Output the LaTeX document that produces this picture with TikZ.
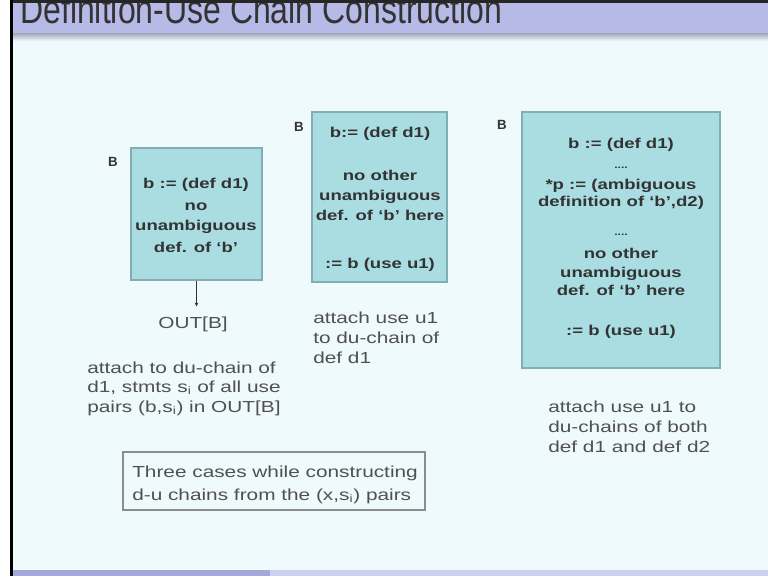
\documentclass[tikz,border=0pt]{standalone}
\usepackage{fontspec}
\setmainfont{Liberation Sans}
\newfontfamily\widefont[FakeStretch=1.3]{Liberation Sans}
\newfontfamily\titlefont[FakeStretch=0.8]{Liberation Sans}
\usetikzlibrary{fit,arrows.meta}
\definecolor{bgc}{HTML}{EFFAFC}
\definecolor{boxfill}{HTML}{A9DDE2}
\definecolor{boxline}{HTML}{82ADB2}
\definecolor{barc}{HTML}{B7BAE6}
\definecolor{barshadow}{HTML}{9EA6B4}
\definecolor{botbarA}{HTML}{A3A7DC}
\definecolor{botbarB}{HTML}{CDD0F1}
\definecolor{txtdark}{HTML}{333333}
\definecolor{txtgray}{HTML}{505050}
\tikzset{
  blk/.style={draw=boxline, line width=1.1pt, fill=boxfill, inner sep=0pt},
  bt/.style={font=\widefont\bfseries\fontsize{10.7}{12}\selectfont, text=txtdark, anchor=base, inner sep=0pt},
  dots/.style={font=\widefont\bfseries\fontsize{7}{8}\selectfont, text=txtdark, anchor=base, inner sep=0pt},
  plain/.style={font=\widefont\fontsize{12}{14.6}\selectfont, text=txtgray, anchor=base west, inner sep=0pt},
  blbl/.style={font=\bfseries\fontsize{10}{11}\selectfont, text=txtdark, inner sep=0pt},
}
\begin{document}
\begin{tikzpicture}[x=0.75pt,y=-0.75pt]
\useasboundingbox (0,0) rectangle (768,576);
% background and frame
\fill[bgc] (0,0) rectangle (768,576);
\fill[white] (0,0) rectangle (10,576);
\fill[black] (10,0) rectangle (13,576);
% title bar
\fill[barc] (13,0) rectangle (768,33);
\shade[top color=barshadow, bottom color=bgc] (13,33) rectangle (768,41);
\node[anchor=base west, font=\titlefont\fontsize{30}{34}\selectfont, text=txtdark, inner sep=0pt] (title) at (20,23) {Definition-Use Chain Construction};
\fill[black!85] (13,0) rectangle (768,3);
% bottom bar
\fill[botbarA] (13,570) rectangle (270,576);
\fill[botbarB] (270,570) rectangle (768,576);

% ---- case 1 ----
\node[blk, fit={(131,148) (262,280)}] (box1) {};
\node[blbl] (B1) at (113,162) {B};
\node[bt] (b1l1) at (196,188) {b := (def d1)};
\node[bt] (b1l2) at (196,210) {no};
\node[bt] (b1l3) at (196,230) {unambiguous};
\node[bt] (b1l4) at (196,252) {def. of ‘b’};
\node[anchor=base, inner sep=0pt, font=\widefont\fontsize{12}{14.6}\selectfont, text=txtgray] (out) at (193,328) {OUT[B]};
\draw[line width=0.7pt, draw=txtdark, -{Latex[length=3pt,width=3pt]}, shorten >=7pt] (box1.south) -- (box1.south |- out.north);
\node[plain] (c1t1) at (87,373.5) {attach to du-chain of};
\node[plain] (c1t2) at (87,392.5) {d1, stmts s\textsubscript{i} of all use};
\node[plain] (c1t3) at (87,412.5) {pairs (b,s\textsubscript{i}) in OUT[B]};

% ---- case 2 ----
\node[blk, fit={(312,112) (447,282)}] (box2) {};
\node[blbl] (B2) at (299,127) {B};
\node[bt] (b2l1) at (380,137) {b:= (def d1)};
\node[bt] (b2l2) at (380,180) {no other};
\node[bt] (b2l3) at (380,200) {unambiguous};
\node[bt] (b2l4) at (380,220) {def. of ‘b’ here};
\node[bt] (b2l5) at (380,268) {:= b (use u1)};
\node[plain] (c2t1) at (313,323.5) {attach use u1};
\node[plain] (c2t2) at (313,343.5) {to du-chain of};
\node[plain] (c2t3) at (313,363.5) {def d1};

% ---- case 3 ----
\node[blk, fit={(522,112) (720,368)}] (box3) {};
\node[blbl] (B3) at (502,125) {B};
\node[bt] (b3l1) at (621,148) {b := (def d1)};
\node[dots] (b3d1) at (621,168) {....};
\node[bt] (b3l2) at (621,189) {*p := (ambiguous};
\node[bt] (b3l3) at (621,206) {definition of ‘b’,d2)};
\node[dots] (b3d2) at (621,235) {....};
\node[bt] (b3l4) at (621,258) {no other};
\node[bt] (b3l5) at (621,277) {unambiguous};
\node[bt] (b3l6) at (621,295) {def. of ‘b’ here};
\node[bt] (b3l7) at (621,335) {:= b (use u1)};
\node[plain] (c3t1) at (548,412.5) {attach use u1 to};
\node[plain] (c3t2) at (548,432.5) {du-chains of both};
\node[plain] (c3t3) at (548,452.5) {def d1 and def d2};

% ---- caption ----
\node[fit={(123,452) (425,510)}, draw=black!45, line width=0.8pt, inner sep=0pt] (capbox) {};
\node[plain] (cap1) at (132,477.5) {Three cases while constructing};
\node[plain] (cap2) at (132,500.5) {d-u chains from the (x,s\textsubscript{i}) pairs};
\end{tikzpicture}
\end{document}
